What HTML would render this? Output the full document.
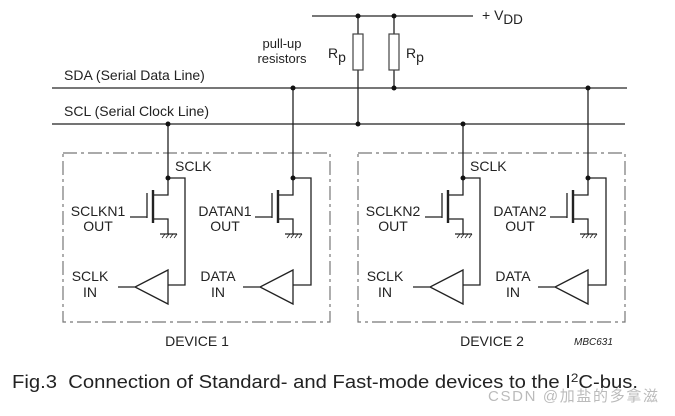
<!DOCTYPE html>
<html><head><meta charset="utf-8"><style>
html,body{margin:0;padding:0;background:#fff;}
svg text{font-family:"Liberation Sans",sans-serif;fill:#222;}
</style></head><body>
<svg width="675" height="411" viewBox="0 0 675 411" xmlns="http://www.w3.org/2000/svg">
<defs>
<g id="dev">
  <rect x="63" y="153" width="267" height="169" fill="none" stroke="#777" stroke-width="1.2" stroke-dasharray="14,4,3,4"/>
  <g stroke="#222" stroke-width="1.3" fill="none">
    <path d="M168 124 V195 H153"/>
    <path d="M168 178 H185 V285 H168"/>
    <path d="M153 219 H168 V234"/>
    <path d="M130 217 H147 M147 193 V218"/>
    <path d="M160 234 H177"/>
    <path d="M162 238 l3 -4 M166 238 l3 -4 M170 238 l3 -4 M174 238 l3 -4" stroke-width="0.8"/>
    <path d="M153 190 V223" stroke-width="2.4"/>
    <path d="M168 270 V304 L135 287 Z M118 287 H135"/>
    <path d="M293 88 V195 H278"/>
    <path d="M293 178 H311 V285 H293"/>
    <path d="M278 219 H293 V234"/>
    <path d="M255 217 H272 M272 193 V218"/>
    <path d="M285 234 H302"/>
    <path d="M287 238 l3 -4 M291 238 l3 -4 M295 238 l3 -4 M299 238 l3 -4" stroke-width="0.8"/>
    <path d="M278 190 V223" stroke-width="2.4"/>
    <path d="M293 270 V304 L260 287 Z M243 287 H260"/>
  </g>
  <circle cx="168" cy="124" r="2.5" fill="#111"/>
  <circle cx="168" cy="178" r="2.5" fill="#111"/>
  <circle cx="293" cy="88" r="2.5" fill="#111"/>
  <circle cx="293" cy="178" r="2.5" fill="#111"/>
</g>
</defs>
<g stroke="#777" stroke-width="2" fill="none">
  <path d="M312 16 H473"/>
  <path d="M52 88 H627"/>
</g>
<g stroke="#222" stroke-width="1.3" fill="none">
  <path d="M52 124 H625"/>
  <path d="M358 16 V124"/>
  <path d="M394 16 V88"/>
</g>
<rect x="353" y="34" width="10" height="36" fill="#fff" stroke="#444" stroke-width="1.2"/>
<rect x="389" y="34" width="10" height="36" fill="#fff" stroke="#444" stroke-width="1.2"/>
<circle cx="358" cy="16" r="2.5" fill="#111"/><circle cx="394" cy="16" r="2.5" fill="#111"/>
<circle cx="358" cy="124" r="2.5" fill="#111"/><circle cx="394" cy="88" r="2.5" fill="#111"/>
<g font-size="14">
  <text x="482" y="20">+ V<tspan font-size="13.5" dy="4">DD</tspan></text>
  <text x="328" y="58">R<tspan dy="4">p</tspan></text>
  <text x="406" y="58">R<tspan dy="4">p</tspan></text>
  <text x="282" y="48" text-anchor="middle" font-size="13">pull-up</text>
  <text x="282" y="63" text-anchor="middle" font-size="13">resistors</text>
  <text x="64" y="80">SDA (Serial Data Line)</text>
  <text x="64" y="116">SCL (Serial Clock Line)</text>
</g>
<use href="#dev"/>
<use href="#dev" transform="translate(295,0)"/>
<g font-size="14">
  <text x="175" y="171">SCLK</text>
  <text x="98" y="216" text-anchor="middle">SCLKN1</text>
  <text x="98" y="231" text-anchor="middle">OUT</text>
  <text x="225" y="216" text-anchor="middle">DATAN1</text>
  <text x="225" y="231" text-anchor="middle">OUT</text>
  <text x="90" y="281" text-anchor="middle">SCLK</text>
  <text x="90" y="297" text-anchor="middle">IN</text>
  <text x="218" y="281" text-anchor="middle">DATA</text>
  <text x="218" y="297" text-anchor="middle">IN</text>
  <text x="470" y="171">SCLK</text>
  <text x="393" y="216" text-anchor="middle">SCLKN2</text>
  <text x="393" y="231" text-anchor="middle">OUT</text>
  <text x="520" y="216" text-anchor="middle">DATAN2</text>
  <text x="520" y="231" text-anchor="middle">OUT</text>
  <text x="385" y="281" text-anchor="middle">SCLK</text>
  <text x="385" y="297" text-anchor="middle">IN</text>
  <text x="513" y="281" text-anchor="middle">DATA</text>
  <text x="513" y="297" text-anchor="middle">IN</text>
  <text x="197" y="346" text-anchor="middle">DEVICE 1</text>
  <text x="492" y="346" text-anchor="middle">DEVICE 2</text>
  <text x="574" y="345" font-size="10" font-style="italic">MBC631</text>
</g>
<text x="12" y="388" font-size="18" xml:space="preserve" textLength="626" lengthAdjust="spacingAndGlyphs">Fig.3  Connection of Standard- and Fast-mode devices to the I<tspan font-size="12" dy="-6">2</tspan><tspan dy="6">C-bus.</tspan></text>
<text x="488" y="401" font-size="15" style="fill:#bbb" textLength="170" font-family="'Liberation Sans','Noto Sans CJK SC',sans-serif">CSDN @加盐的多拿滋</text>
</svg>
</body></html>
